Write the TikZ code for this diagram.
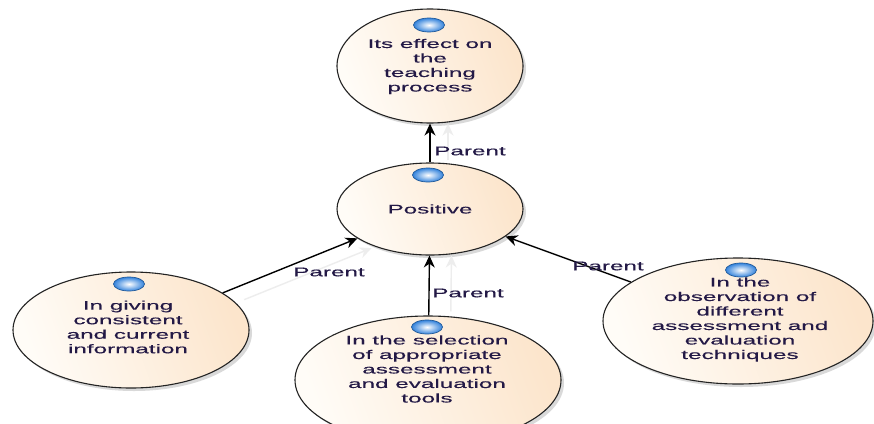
\documentclass[tikz,border=0pt]{standalone}
\usepackage{fontspec}
\setmainfont{Liberation Sans}[FakeStretch=1.94,FakeBold=0.35]
\usetikzlibrary{arrows.meta,shapes.geometric,shadows}
\definecolor{txt}{RGB}{35,25,70}
\definecolor{peachA}{RGB}{255,252,247}
\definecolor{peachB}{RGB}{252,229,204}
\definecolor{edgec}{RGB}{35,35,35}
\definecolor{ballB}{RGB}{50,130,220}
\begin{document}
\begin{tikzpicture}[x=1pt,y=-1pt,
  bub/.style={ellipse, draw=edgec, line width=1.1pt, inner sep=0pt,
    left color=peachA, right color=peachB, shading angle=110,
    drop shadow={opacity=0.15, shadow xshift=3pt, shadow yshift=-3pt, fill=black}},
  ball/.style={ellipse, minimum width=31pt, minimum height=14pt, inner sep=0pt,
    draw=ballB!70!black, line width=0.7pt, inner color=white, outer color=ballB},
  txtnode/.style={align=center, text=txt, inner sep=0pt,
    font=\fontsize{12.5}{14.5}\selectfont},
  lbl/.style={text=txt, inner sep=0pt, font=\fontsize{12.5}{14.5}\selectfont},
  arr/.style={-{Stealth[length=12pt,width=11pt]}, line width=1.4pt, draw=black},
  ghost/.style={-{Stealth[length=12pt,width=11pt]}, line width=1.4pt, draw=black!7}]
\useasboundingbox[fill=white] (0,0) rectangle (874,423);

% ellipses
\node[bub, minimum width=186pt, minimum height=114pt] (top) at (430,66) {};
\node[bub, minimum width=186pt, minimum height=92pt] (pos) at (430,209) {};
\node[bub, minimum width=236pt, minimum height=116pt] (left) at (131,330) {};
\node[bub, minimum width=266pt, minimum height=128pt] (bot) at (428,380) {};
\node[bub, minimum width=270pt, minimum height=126pt] (right) at (738,321) {};

% texts
\node[txtnode] (ttop) at (430,66.5) {Its effect on\\the\\teaching\\process};
\node[txtnode] (tpos) at (430,209) {Positive};
\node[txtnode] (tleft) at (128,327) {In giving\\consistent\\and current\\information};
\node[txtnode] (tbot) at (427,369) {In the selection\\of appropriate\\assessment\\and evaluation\\tools};
\node[txtnode] (tright) at (740,319.5) {In the\\observation of\\different\\assessment and\\evaluation\\techniques};

% balls
\node[ball] (btop) at (429,25) {};
\node[ball] (bpos) at (428,175) {};
\node[ball] (bleft) at (129,284) {};
\node[ball] (bbot) at (427,327) {};
\node[ball] (bright) at (741,270) {};

% ghost connectors
\draw[ghost, transform canvas={xshift=18pt}, shorten <=2pt] (pos) -- (top);
\draw[ghost, transform canvas={xshift=22pt}, shorten <=4pt] (bot) -- (pos);
\draw[ghost, transform canvas={xshift=16pt, yshift=-9pt}, shorten <=6pt, shorten >=2pt] (left) -- (pos);

% connectors
\draw[arr] (pos) -- (top);
\draw[arr] (bot) -- (pos);
\draw[arr] (left) -- (pos);
\draw[arr] (right) -- (pos);

% labels
\node[lbl] (l1) at (470,151) {Parent};
\node[lbl] (l2) at (329,272) {Parent};
\node[lbl] (l3) at (468,293) {Parent};
\node[lbl] (l4) at (608,266) {Parent};
\end{tikzpicture}
\end{document}
